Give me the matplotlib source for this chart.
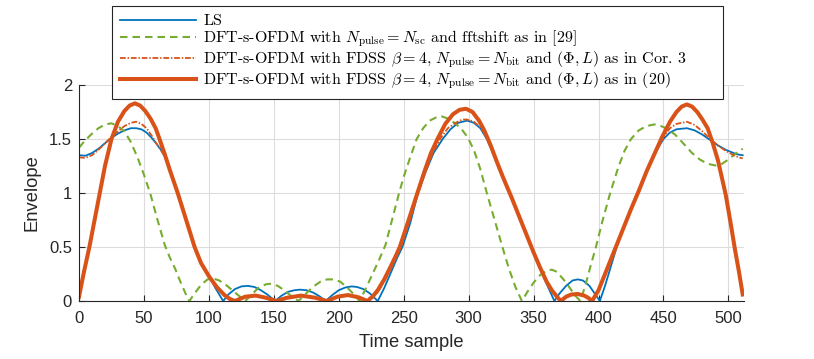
import matplotlib
matplotlib.use("Agg")
import matplotlib.pyplot as plt

# values (sample index, envelope)
ls_x = [0, 5, 10, 15, 20, 25, 30, 35, 40, 44, 48, 52, 56, 60, 63, 66, 70, 76, 82, 89, 94, 100, 105, 108, 111,
        115, 120, 125, 130, 135, 140, 145, 151, 156, 161, 166, 170, 175, 180, 185, 190, 195, 200, 205, 210, 214,
        219, 224, 230, 235, 240, 245, 249, 255, 261, 267, 273, 280, 286, 292, 299, 304, 309, 314, 320, 327, 333,
        339, 345, 350, 355, 360, 363, 366, 370, 375, 380, 384, 388, 393, 397, 401, 405, 410, 414, 420, 425, 431,
        437, 441, 445, 450, 455, 460, 468, 474, 480, 486, 492, 498, 504, 508, 511]
ls_y = [1.35, 1.345, 1.37, 1.41, 1.46, 1.51, 1.55, 1.58, 1.6, 1.6, 1.59, 1.56, 1.51, 1.45, 1.4, 1.34, 1.21, 1.0,
        0.77, 0.5, 0.36, 0.24, 0.12, 0.06, 0.0,
        0.06, 0.11, 0.135, 0.14, 0.13, 0.1, 0.06, 0.0, 0.05, 0.085, 0.1, 0.105, 0.1, 0.08, 0.045, 0.0, 0.055, 0.1,
        0.125, 0.135, 0.13, 0.11, 0.07, 0.0, 0.12, 0.26, 0.4, 0.5, 0.72, 1.0, 1.2, 1.37, 1.5, 1.59, 1.65, 1.67,
        1.65, 1.6, 1.5, 1.33, 1.13, 0.96, 0.78, 0.6, 0.44, 0.3, 0.16, 0.08, 0.0, 0.07, 0.14, 0.19, 0.2, 0.19,
        0.14, 0.07, 0.0, 0.14, 0.34, 0.5, 0.7, 0.85, 1.02, 1.2, 1.31, 1.4, 1.5, 1.56, 1.59, 1.6, 1.58, 1.54,
        1.49, 1.44, 1.4, 1.37, 1.355, 1.35]

fft_x = [0, 5, 10, 15, 20, 25, 30, 35, 40, 45, 50, 55, 60, 66, 70, 74, 78, 82, 85, 89, 94, 99, 103, 108, 113,
         118, 123, 128, 133, 138, 144, 148, 153, 158, 163, 169, 174, 180, 186, 191, 196, 201, 206, 211, 216, 221,
         226, 231, 236, 241, 246, 250, 255, 260, 265, 270, 275, 279, 284, 289, 294, 299, 304, 309, 314, 320, 326,
         331, 336, 341, 345, 350, 355, 360, 364, 368, 373, 378, 382, 386, 390, 394, 398, 403, 409, 415, 420, 425,
         431, 437, 443, 448, 452, 459, 466, 472, 478, 484, 490, 495, 500, 505, 511]
fft_y = [1.42, 1.49, 1.55, 1.6, 1.635, 1.645, 1.62, 1.57, 1.47, 1.33, 1.17, 0.99, 0.77, 0.52, 0.4, 0.3, 0.18,
         0.07, 0.0, 0.07, 0.15, 0.2, 0.21, 0.19, 0.15, 0.1, 0.05, 0.0, 0.06, 0.12, 0.155, 0.16, 0.14, 0.1, 0.05,
         0.0, 0.06, 0.13, 0.18, 0.2, 0.2, 0.18, 0.13, 0.07, 0.0, 0.12, 0.25, 0.38, 0.52, 0.75, 0.98, 1.15, 1.33,
         1.5, 1.6, 1.67, 1.7, 1.71, 1.69, 1.65, 1.6, 1.52, 1.4, 1.22, 1.0, 0.75, 0.5, 0.3, 0.13, 0.0, 0.08, 0.17,
         0.24, 0.28, 0.29, 0.27, 0.2, 0.12, 0.05, 0.0, 0.15, 0.33, 0.5, 0.74, 1.0, 1.23, 1.39, 1.5, 1.58, 1.62,
         1.635, 1.62, 1.6, 1.54, 1.45, 1.37, 1.31, 1.27, 1.255, 1.27, 1.31, 1.36, 1.41]

cor3_x = [0, 5, 10, 15, 20, 25, 30, 35, 40, 44, 48, 52, 56, 60, 63, 66, 70, 76, 82, 89, 94, 100, 106, 112, 116,
          120, 128, 136, 144, 152, 160, 171, 182, 191, 199, 207, 215, 222, 226, 230, 235, 240, 247, 253, 260, 266,
          272, 278, 284, 290, 295, 299, 304, 309, 314, 320, 327, 333, 339, 345, 350, 355, 360, 364, 368, 371, 375,
          379, 384, 389, 392, 395, 400, 405, 410, 414, 420, 425, 431, 437, 441, 445, 450, 455, 460, 468, 474, 480,
          486, 492, 498, 504, 508, 511]
cor3_y = [1.33, 1.325, 1.35, 1.4, 1.46, 1.52, 1.57, 1.62, 1.65, 1.66, 1.64, 1.6, 1.53, 1.45, 1.4, 1.34, 1.21,
          1.0, 0.77, 0.5, 0.35, 0.23, 0.13, 0.055, 0.02, 0.0, 0.04, 0.05, 0.03, 0.0, 0.03, 0.05, 0.03, 0.0, 0.04,
          0.055, 0.035, 0.0, 0.03, 0.08, 0.18, 0.3, 0.48, 0.7, 0.96, 1.17, 1.36, 1.5, 1.6, 1.65, 1.68, 1.68, 1.66,
          1.61, 1.52, 1.35, 1.13, 0.96, 0.78, 0.6, 0.45, 0.31, 0.18, 0.1, 0.04, 0.0, 0.04, 0.06, 0.065, 0.05,
          0.03, 0.0, 0.1, 0.25, 0.4, 0.52, 0.7, 0.85, 1.02, 1.2, 1.31, 1.42, 1.52, 1.6, 1.64, 1.66, 1.63, 1.57,
          1.5, 1.44, 1.39, 1.35, 1.33, 1.32]

eq20_x = [0, 4, 8, 12, 16, 20, 25, 30, 35, 39, 43, 47, 51, 55, 59, 62, 66, 70, 76, 82, 89, 94, 100, 106, 112,
          116, 120, 128, 136, 144, 152, 160, 171, 182, 191, 199, 207, 215, 222, 226, 230, 235, 240, 244, 247, 253,
          260, 266, 271, 276, 282, 288, 293, 298, 303, 308, 312, 317, 322, 327, 333, 339, 345, 350, 355, 360, 364,
          368, 371, 375, 379, 384, 389, 392, 395, 400, 405, 410, 414, 420, 425, 431, 437, 443, 449, 455, 460, 464,
          468, 472, 476, 480, 484, 488, 492, 495, 498, 502, 505, 508, 511]
eq20_y = [0.04, 0.28, 0.5, 0.75, 1.0, 1.25, 1.5, 1.66, 1.76, 1.81, 1.83, 1.81, 1.76, 1.69, 1.6, 1.5, 1.36, 1.21,
          1.0, 0.77, 0.5, 0.35, 0.23, 0.13, 0.055, 0.02, 0.0, 0.04, 0.05, 0.03, 0.0, 0.03, 0.05, 0.03, 0.0, 0.04,
          0.055, 0.035, 0.0, 0.04, 0.1, 0.2, 0.32, 0.42, 0.5, 0.72, 0.98, 1.2, 1.37, 1.5, 1.64, 1.73, 1.77, 1.78,
          1.75, 1.67, 1.58, 1.44, 1.28, 1.13, 0.96, 0.78, 0.6, 0.45, 0.31, 0.18, 0.1, 0.04, 0.0, 0.04, 0.06, 0.065,
          0.05, 0.03, 0.0, 0.1, 0.25, 0.4, 0.52, 0.7, 0.85, 1.02, 1.2, 1.36, 1.52, 1.66, 1.75, 1.8, 1.82, 1.8,
          1.75, 1.68, 1.6, 1.46, 1.3, 1.14, 0.98, 0.7, 0.48, 0.28, 0.06]

labels = [
    r"LS",
    r"DFT-s-OFDM with $N_{\mathrm{pulse}} = N_{\mathrm{sc}}$ and fftshift as in [29]",
    r"DFT-s-OFDM with FDSS $\beta = 4$, $N_{\mathrm{pulse}} = N_{\mathrm{bit}}$ and $(\Phi, L)$ as in Cor. 3",
    r"DFT-s-OFDM with FDSS $\beta = 4$, $N_{\mathrm{pulse}} = N_{\mathrm{bit}}$ and $(\Phi, L)$ as in (20)",
]

plt.rcParams['font.family'] = ['Liberation Sans', 'DejaVu Sans']
plt.rcParams['mathtext.fontset'] = 'cm'

fig = plt.figure(figsize=(8.14, 3.59), dpi=100)
ax = fig.add_axes([79 / 814, 1 - 301 / 359, 665 / 814, 216 / 359])

ax.plot(ls_x, ls_y, color='#0072BD', lw=1.3, label=labels[0])
ax.plot(fft_x, fft_y, color='#77AC30', lw=1.5, linestyle=(0, (3.6, 2.4)), label=labels[1])
ax.plot(cor3_x, cor3_y, color='#D95319', lw=1.3, linestyle=(0, (3.2, 1.0, 0.8, 1.0)), label=labels[2])
ax.plot(eq20_x, eq20_y, color='#D95319', lw=2.9, label=labels[3])

ax.set_xlim(0, 512)
ax.set_ylim(0, 2)
ax.set_xticks(range(0, 501, 50))
ax.set_yticks([0, 0.5, 1, 1.5, 2])
ax.set_yticklabels(['0', '0.5', '1', '1.5', '2'])
ax.grid(True, color='#dcdcdc', lw=0.8)
ax.set_axisbelow(True)
for s in ['top', 'right']:
    ax.spines[s].set_visible(False)
for s in ['left', 'bottom']:
    ax.spines[s].set_color('#262626')
    ax.spines[s].set_linewidth(0.8)
ax.tick_params(direction='in', length=4, width=0.8, colors='#262626', labelsize=12)
ax.tick_params(axis='x', pad=7)
ax.tick_params(axis='y', pad=5)
ax.set_xlabel('Time sample', fontsize=13.2, color='#262626', labelpad=6)
ax.set_ylabel('Envelope', fontsize=13.2, color='#262626', labelpad=6)

# legend box spans x 112..723 px, top at y 6 px
leg = ax.legend(loc='upper left', mode='expand',
                bbox_to_anchor=(112 / 814, 1 - 98 / 359, (723 - 112) / 814, 92 / 359),
                bbox_transform=fig.transFigure,
                prop={'family': 'cmr10', 'size': 11.5}, handlelength=4.75, handletextpad=0.45,
                labelspacing=0.02, borderpad=0.5, fancybox=False, framealpha=1, borderaxespad=0)
leg.get_frame().set_edgecolor('#262626')
leg.get_frame().set_linewidth(0.8)

fig.savefig('out.png', dpi=100)
